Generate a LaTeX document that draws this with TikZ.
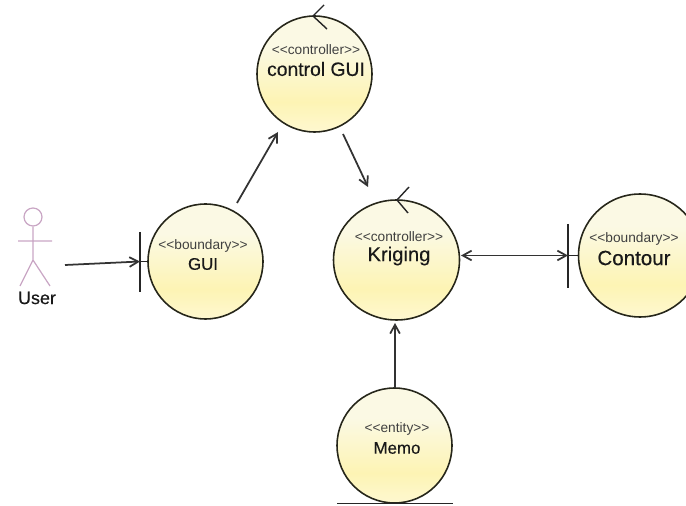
\documentclass[tikz,border=0pt]{standalone}
\usepackage{fontspec}
\setmainfont{Liberation Sans}
\newfontfamily\semibold[FakeBold=0.25]{Liberation Sans}
\usetikzlibrary{shapes.geometric,arrows.meta}
\definecolor{ballline}{HTML}{26261A}
\definecolor{balltop}{HTML}{FBF9E4}
\definecolor{ballmid}{HTML}{FDF4B4}
\definecolor{ballbot}{HTML}{FEF8D0}
\definecolor{actorpink}{HTML}{C9A6C4}
\pgfdeclareverticalshading{ballshade}{100bp}{color(0bp)=(ballbot);color(25bp)=(ballbot);color(38bp)=(ballmid);color(62bp)=(balltop);color(100bp)=(balltop)}
\tikzset{
  x=0.02cm,y=-0.02cm,
  ball/.style={ellipse,draw=ballline,line width=0.9pt,shading=ballshade,inner sep=0pt},
  stereo/.style={inner sep=0pt,text=black!75,font=\fontsize{7.8}{9}\selectfont},
  nm/.style={inner sep=0pt,text=black!90},
  bar/.style={draw=black!85,line width=0.8pt},
  flow/.style={draw=black!80,line width=1pt,-{Straight Barb[length=5pt,width=5.5pt]}},
  flowboth/.style={draw=black!80,line width=1pt,{Straight Barb[length=5pt,width=5.5pt]}-{Straight Barb[length=5pt,width=5.5pt]}},
  actor/.style={draw=actorpink,line width=0.7pt},
}
\begin{document}
\begin{tikzpicture}
\useasboundingbox (0,0) rectangle (686,506);
% balls
\node[ball,minimum width=2.3cm,minimum height=2.32cm] (ctl) at (314.5,74) {};
\node[ball,minimum width=2.3cm,minimum height=2.3cm] (gui) at (205.5,261.5) {};
\node[ball,minimum width=2.52cm,minimum height=2.4cm] (kri) at (396.5,260) {};
\node[ball,minimum width=2.46cm,minimum height=2.46cm] (con) at (640,255.5) {};
\node[ball,minimum width=2.3cm,minimum height=2.3cm] (mem) at (394.5,445.5) {};
% labels
\node[stereo] (s1) at (316,50) {<{}<controller>{}>};
\node[nm,font=\semibold\fontsize{11}{13}\selectfont] (n1) at (316,69) {control GUI};
\node[stereo] (s2) at (203,246) {<{}<boundary>{}>};
\node[nm,font=\semibold\fontsize{9.6}{12}\selectfont] (n2) at (203,264) {GUI};
\node[stereo] (s3) at (399,237) {<{}<controller>{}>};
\node[nm,font=\semibold\fontsize{11.5}{13}\selectfont] (n3) at (399,256) {Kriging};
\node[stereo] (s4) at (634,239) {<{}<boundary>{}>};
\node[nm,font=\semibold\fontsize{11.7}{13}\selectfont] (n4) at (634,258) {Contour};
\node[stereo] (s5) at (397,429) {<{}<entity>{}>};
\node[nm,font=\semibold\fontsize{9.6}{12}\selectfont] (n5) at (397,448) {Memo};
% controller marks
\coordinate (c1a) at (324,5); \coordinate (c1t) at (313,16); \coordinate (c1b) at (327,29);
\draw[bar] (c1a) -- (c1t) -- (c1b);
\coordinate (c2a) at (409,187); \coordinate (c2t) at (397,200); \coordinate (c2b) at (408,213);
\draw[bar] (c2a) -- (c2t) -- (c2b);
% boundary marks
\coordinate (b1a) at (140,232); \coordinate (b1b) at (140,292); \coordinate (b1m) at (140,261.5);
\draw[bar] (b1a) -- (b1b);
\draw[bar] (b1m) -- (gui.west);
\coordinate (b2a) at (568,224); \coordinate (b2b) at (568,288); \coordinate (b2m) at (568,255.5);
\draw[bar] (b2a) -- (b2b);
\draw[bar] (b2m) -- (con.west);
% entity mark
\coordinate (e1) at (337,503.5); \coordinate (e2) at (453,503.5);
\draw[bar,line width=1.1pt] (e1) -- (e2);
% actor
\node[circle,draw=actorpink,line width=0.7pt,minimum size=0.36cm,inner sep=0pt] (head) at (33,217) {};
\coordinate (hip) at (33,260); \coordinate (armL) at (18,241); \coordinate (armR) at (52,241);
\coordinate (legL) at (20,286); \coordinate (legR) at (50,286);
\draw[actor] (head.south) -- (hip) (armL) -- (armR) (legL) -- (hip) -- (legR);
\node[nm,font=\semibold\fontsize{10.2}{12}\selectfont] (user) at (37,298) {User};
% connectors
\coordinate (u0) at (65,265);
\draw[flow] (u0) -- (b1m);
\coordinate (g0) at (237,203); \coordinate (g1) at (278,132);
\draw[flow] (g0) -- (g1);
\coordinate (k0) at (343,134); \coordinate (k1) at (368,187);
\draw[flow] (k0) -- (k1);
\coordinate (kc) at (461,255.5);
\draw[flowboth] (kc) -- (b2m);
\coordinate (m0) at (395,388); \coordinate (m1) at (395,323);
\draw[flow] (m0) -- (m1);
\end{tikzpicture}
\end{document}
